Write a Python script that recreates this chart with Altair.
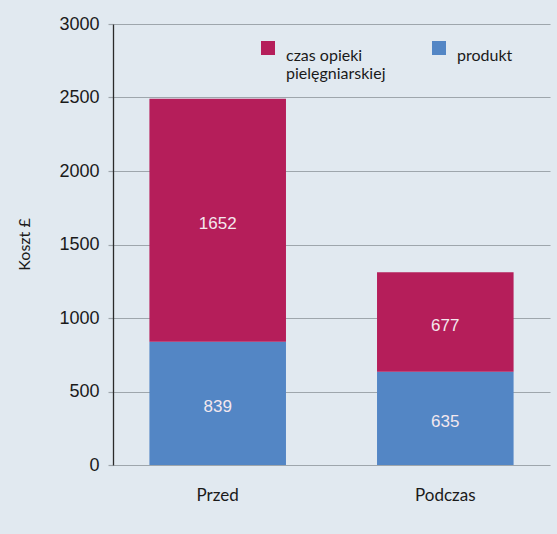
import altair as alt
import pandas as pd

# Cost per patient, split by component (GBP)
groups = ["Przed", "Podczas"]
produkt = [839, 635]
opieka = [1652, 677]

series_names = ["czas opieki pielęgniarskiej", "produkt"]
series_colors = ["#b51e5a", "#5386c5"]

rows = []
for g, p, o in zip(groups, produkt, opieka):
    rows.append({"grupa": g, "skladnik": "produkt", "koszt": p, "kolejnosc": 0})
    rows.append({"grupa": g, "skladnik": "czas opieki pielęgniarskiej", "koszt": o, "kolejnosc": 1})
df = pd.DataFrame(rows)

label_font = "Liberation Sans"
text_font = "Lato"

base = alt.Chart(df).transform_stack(
    stack="koszt",
    groupby=["grupa"],
    sort=[alt.SortField("kolejnosc", order="ascending")],
    as_=["y0", "y1"],
).transform_calculate(
    mid="(datum.y0 + datum.y1) / 2"
)

x_enc = alt.X(
    "grupa:N",
    sort=groups,
    title=None,
    scale=alt.Scale(paddingInner=0.4, paddingOuter=0.16),
    axis=alt.Axis(
        domain=False,
        ticks=False,
        labelAngle=0,
        labelFont=text_font,
        labelFontSize=17,
        labelColor="#1a1a1a",
        labelPadding=22,
        labelBaseline="top",
    ),
)

bars = base.mark_bar().encode(
    x=x_enc,
    y=alt.Y(
        "y0:Q",
        title="Koszt £",
        scale=alt.Scale(domain=[0, 3000], nice=False),
        axis=alt.Axis(
            values=[0, 500, 1000, 1500, 2000, 2500, 3000],
            format="d",
            grid=True,
            gridColor="#9ea6ac",
            gridWidth=1.2,
            tickSize=5,
            tickColor="#9ea6ac",
            tickWidth=1.2,
            domainColor="#2a2a2a",
            domainWidth=1.3,
            labelFont=label_font,
            labelFontSize=18,
            labelColor="#1a1a1a",
            labelPadding=9,
            titleFont=text_font,
            titleFontSize=16,
            titleFontWeight="normal",
            titleColor="#1a1a1a",
            titleX=-89,
            titleY=220,
            titleAngle=-90,
            titleBaseline="middle",
            titleAlign="center",
        ),
    ),
    y2="y1:Q",
    color=alt.Color(
        "skladnik:N",
        scale=alt.Scale(domain=series_names, range=series_colors),
        legend=alt.Legend(
            title=None,
            orient="none",
            legendX=147,
            legendY=16,
            direction="horizontal",
            columns=2,
            columnPadding=45,
            symbolType="square",
            symbolSize=196,
            symbolStrokeWidth=0,
            symbolOpacity=1,
            labelFont=text_font,
            labelFontSize=16,
            labelColor="#1a1a1a",
            labelOffset=10,
            labelLimit=200,
            labelBaseline="top",
            labelExpr="datum.label == 'produkt' ? ['produkt', ' '] : ['czas opieki', 'pielęgniarskiej']",
        ),
    ),
    order=alt.Order("kolejnosc:Q"),
)

labels = base.mark_text(
    font=label_font,
    fontSize=17,
    color="#f4e8ee",
    baseline="middle",
    dy=4,
).encode(
    x=alt.X("grupa:N", sort=groups),
    y=alt.Y("mid:Q"),
    text=alt.Text("koszt:Q"),
)

chart = (
    alt.layer(bars, labels)
    .properties(
        width=437,
        height=441,
        background="#e1e9f0",
        padding={"left": 113, "top": 24, "right": 7, "bottom": 69},
        autosize=alt.AutoSizeParams(type="none"),
    )
    .configure_view(stroke=None, fill=None)
)

chart.save("out.html", embed_options={"renderer": "svg", "actions": False})
